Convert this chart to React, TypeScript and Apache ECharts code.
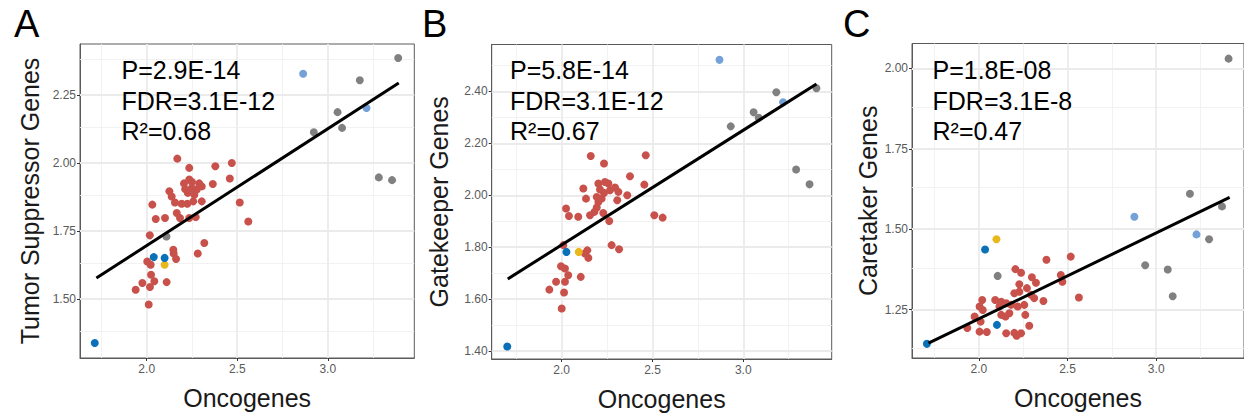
import React, { useEffect, useRef } from "react";
import * as echarts from "echarts";

type P = [number, number];

// ---------- shared axis ticks ----------
const xTicks = [2.0, 2.5, 3.0];
const xMinor = [1.75, 2.25, 2.75, 3.25];
const yTicksA = [1.5, 1.75, 2.0, 2.25];
const yMinorA = [1.375, 1.625, 1.875, 2.125, 2.375];
const yTicksB = [1.4, 1.6, 1.8, 2.0, 2.2, 2.4];
const yMinorB = [1.5, 1.7, 1.9, 2.1, 2.3, 2.5];
const yTicksC = [1.25, 1.5, 1.75, 2.0];
const yMinorC = [1.125, 1.375, 1.625, 1.875];

// ---------- Panel A: Tumor Suppressor Genes ----------
const redA: P[] = [
  [2.169, 2.016], [2.235, 1.982], [2.379, 1.988], [2.47, 2.0], [2.459, 1.943], [2.365, 1.923],
  [2.235, 1.939], [2.212, 1.904], [2.249, 1.908], [2.276, 1.902], [2.304, 1.914], [2.227, 1.89],
  [2.263, 1.883], [2.125, 1.896], [2.138, 1.877], [2.156, 1.855], [2.193, 1.85], [2.224, 1.85],
  [2.304, 1.859], [2.257, 1.859], [2.206, 1.925], [2.29, 1.925], [2.25, 1.93], [2.031, 1.847],
  [2.05, 1.794], [2.101, 1.798], [2.166, 1.816], [2.184, 1.798], [2.235, 1.798], [2.271, 1.801],
  [2.514, 1.855], [2.561, 1.785], [2.017, 1.734], [2.318, 1.706], [2.282, 1.667], [2.147, 1.681],
  [2.149, 1.667], [2.162, 1.647], [2.003, 1.638], [2.022, 1.626], [2.024, 1.589], [2.042, 1.565],
  [1.976, 1.559], [1.939, 1.534], [2.018, 1.544], [2.11, 1.562], [2.011, 1.48],
];
const yellowA: P[] = [[2.099, 1.626]];
const grayA: P[] = [
  [2.109, 1.73], [2.923, 2.113], [3.054, 2.187], [3.079, 2.129], [3.177, 2.304],
  [3.282, 1.947], [3.355, 1.937], [3.389, 2.386],
];
const lightBlueA: P[] = [[2.864, 2.328], [3.214, 2.202]];
const darkBlueA: P[] = [[1.713, 1.338], [2.039, 1.654], [2.099, 1.651]];
const fitA: P[] = [[1.722, 1.577], [3.392, 2.294]];

// ---------- Panel B: Gatekeeper Genes ----------
const redB: P[] = [
  [2.16, 2.151], [2.233, 2.122], [2.463, 2.154], [2.376, 2.073], [2.455, 2.041], [2.202, 2.045],
  [2.238, 2.051], [2.257, 2.045], [2.294, 2.03], [2.312, 2.013], [2.211, 2.022], [2.233, 2.009],
  [2.266, 2.019], [2.119, 2.026], [2.134, 1.987], [2.193, 1.993], [2.202, 1.974], [2.22, 1.987],
  [2.193, 1.953], [2.306, 1.981], [2.361, 2.0], [2.024, 1.949], [2.04, 1.92], [2.091, 1.917],
  [2.156, 1.923], [2.18, 1.936], [2.229, 1.932], [2.262, 1.901], [2.51, 1.923], [2.556, 1.914],
  [2.275, 1.808], [2.316, 1.792], [2.009, 1.808], [2.141, 1.788], [2.147, 1.759], [2.128, 1.776],
  [1.996, 1.727], [2.018, 1.718], [2.036, 1.692], [2.018, 1.667], [2.105, 1.686], [1.969, 1.667],
  [1.932, 1.637], [2.013, 1.626], [2.0, 1.564],
];
const yellowB: P[] = [[2.094, 1.782]];
const grayB: P[] = [
  [2.931, 2.265], [3.057, 2.319], [3.085, 2.298], [3.182, 2.396], [3.291, 2.099],
  [3.365, 2.042], [3.403, 2.412],
];
const lightBlueB: P[] = [[2.869, 2.521], [3.219, 2.358]];
const darkBlueB: P[] = [[1.7, 1.418], [2.026, 1.782]];
const fitB: P[] = [[1.703, 1.678], [3.403, 2.428]];

// ---------- Panel C: Caretaker Genes ----------
const redC: P[] = [
  [2.381, 1.405], [2.518, 1.415], [2.206, 1.376], [2.238, 1.365], [2.299, 1.351], [2.322, 1.334],
  [2.462, 1.358], [2.471, 1.337], [2.228, 1.329], [2.271, 1.317], [2.228, 1.306], [2.2, 1.301],
  [2.294, 1.296], [2.312, 1.286], [2.564, 1.288], [2.364, 1.277], [2.092, 1.28], [2.126, 1.275],
  [2.154, 1.27], [2.182, 1.265], [2.219, 1.26], [2.256, 1.265], [2.116, 1.26], [2.019, 1.28],
  [2.004, 1.26], [2.022, 1.249], [1.976, 1.229], [2.01, 1.213], [2.126, 1.234], [2.15, 1.229],
  [2.172, 1.239], [2.262, 1.234], [2.284, 1.2], [1.935, 1.193], [2.004, 1.182], [2.045, 1.181],
  [2.154, 1.177], [2.2, 1.178], [2.213, 1.169], [2.238, 1.177],
];
const yellowC: P[] = [[2.099, 1.469]];
const grayC: P[] = [
  [2.106, 1.355], [2.938, 1.388], [3.065, 1.375], [3.093, 1.292], [3.19, 1.61],
  [3.298, 1.469], [3.371, 1.571], [3.408, 2.03],
];
const lightBlueC: P[] = [[2.877, 1.539], [3.227, 1.484]];
const darkBlueC: P[] = [[1.707, 1.144], [2.035, 1.437], [2.102, 1.203]];
const fitC: P[] = [[1.716, 1.146], [3.414, 1.599]];

const letters = ["A", "B", "C"];
const yTitles = ["Tumor Suppressor Genes", "Gatekeeper Genes", "Caretaker Genes"];
const statsText = [
  ["P=2.9E-14", "FDR=3.1E-12", "R²=0.68"],
  ["P=5.8E-14", "FDR=3.1E-12", "R²=0.67"],
  ["P=1.8E-08", "FDR=3.1E-8", "R²=0.47"],
];

const FONT = "'Liberation Sans', Arial, sans-serif";
const RED = "#C8524B";
const GRAY = "#808080";
const LBLUE = "#74A2D8";
const DBLUE = "#0A70B8";
const YELLOW = "#E8B81E";

export default function App() {
  const ref = useRef<HTMLDivElement>(null);
  useEffect(() => {
    if (!ref.current) return;
    const chart = echarts.init(ref.current, undefined, { renderer: "svg" });

    const panels = [
      {
        grid: { left: 80, top: 44, width: 334.3, height: 314 },
        x: [1.6315, 3.478], y: [1.283, 2.4375], yTicks: yTicksA, yMinor: yMinorA, yDec: 2, nameGap: 38,
        red: redA, yellow: yellowA, gray: grayA, lb: lightBlueA, db: darkBlueA, fit: fitA,
        letter: { left: 14, top: 5 }, stats: { left: 121.5, top: 55 },
      },
      {
        grid: { left: 491.7, top: 44.5, width: 340, height: 314.5 },
        x: [1.6145, 3.487], y: [1.37, 2.58], yTicks: yTicksB, yMinor: yMinorB, yDec: 2, nameGap: 40,
        red: redB, yellow: yellowB, gray: grayB, lb: lightBlueB, db: darkBlueB, fit: fitB,
        letter: { left: 422, top: 5 }, stats: { left: 510, top: 55 },
      },
      {
        grid: { left: 912, top: 43.5, width: 334, height: 314.5 },
        x: [1.623, 3.495], y: [1.1, 2.077], yTicks: yTicksC, yMinor: yMinorC, yDec: 2, nameGap: 32,
        red: redC, yellow: yellowC, gray: grayC, lb: lightBlueC, db: darkBlueC, fit: fitC,
        letter: { left: 843, top: 5 }, stats: { left: 932.5, top: 55 },
      },
    ];

    const grids: any[] = [];
    const xAxes: any[] = [];
    const yAxes: any[] = [];
    const series: any[] = [];
    const titles: any[] = [];

    panels.forEach((p, i) => {
      grids.push({
        ...p.grid,
        show: true,
        borderColor: "#5a5a5a",
        borderWidth: 1,
        backgroundColor: "transparent",
        containLabel: false,
      });
      xAxes.push({
        type: "value",
        gridIndex: i,
        min: p.x[0],
        max: p.x[1],
        name: "Oncogenes",
        nameLocation: "middle",
        nameGap: 27,
        nameTextStyle: { fontSize: 25, color: "#1a1a1a", fontFamily: FONT },
        axisLine: { show: true, onZero: false, lineStyle: { color: "#5a5a5a", width: 1 } },
        axisTick: { show: true, customValues: xTicks, length: 3, lineStyle: { color: "#333", width: 1 } },
        axisLabel: {
          customValues: xTicks,
          formatter: (v: number) => v.toFixed(1),
          fontSize: 12,
          color: "#5a5a5a",
          margin: 5,
          fontFamily: FONT,
        },
        splitLine: { show: false },
      });
      yAxes.push({
        type: "value",
        gridIndex: i,
        min: p.y[0],
        max: p.y[1],
        name: yTitles[i],
        nameLocation: "middle",
        nameGap: p.nameGap,
        nameRotate: 90,
        nameTextStyle: { fontSize: 25, color: "#1a1a1a", fontFamily: FONT },
        axisLine: { show: true, onZero: false, lineStyle: { color: "#5a5a5a", width: 1 } },
        axisTick: { show: true, customValues: p.yTicks, length: 3, lineStyle: { color: "#333", width: 1 } },
        axisLabel: {
          customValues: p.yTicks,
          formatter: (v: number) => v.toFixed(p.yDec),
          fontSize: 12,
          color: "#5a5a5a",
          margin: 4,
          fontFamily: FONT,
        },
        splitLine: { show: false },
      });

      const major = { color: "#EBEBEB", width: 1.8, type: "solid" };
      const minor = { color: "#F0F0F0", width: 0.9, type: "solid" };
      series.push({
        type: "line",
        xAxisIndex: i,
        yAxisIndex: i,
        data: [],
        silent: true,
        z: 1,
        markLine: {
          silent: true,
          z: 1,
          symbol: ["none", "none"],
          label: { show: false },
          emphasis: { disabled: true },
          animation: false,
          data: [
            ...xMinor.map((v) => ({ xAxis: v, lineStyle: minor })),
            ...p.yMinor.map((v) => ({ yAxis: v, lineStyle: minor })),
            ...xTicks.map((v) => ({ xAxis: v, lineStyle: major })),
            ...p.yTicks.map((v) => ({ yAxis: v, lineStyle: major })),
          ],
        },
      });

      const groups: [P[], string][] = [
        [p.red, RED],
        [p.yellow, YELLOW],
        [p.gray, GRAY],
        [p.lb, LBLUE],
        [p.db, DBLUE],
      ];
      groups.forEach(([data, color]) => {
        series.push({
          type: "scatter",
          xAxisIndex: i,
          yAxisIndex: i,
          data,
          symbol: "circle",
          symbolSize: 8,
          itemStyle: { color, opacity: 1 },
          silent: true,
          z: 2,
        });
      });
      series.push({
        type: "line",
        xAxisIndex: i,
        yAxisIndex: i,
        data: p.fit,
        symbol: "none",
        lineStyle: { color: "#000", width: 3 },
        silent: true,
        z: 3,
      });

      titles.push({
        text: letters[i],
        left: p.letter.left,
        top: p.letter.top,
        padding: 0,
        textStyle: { fontSize: 38, fontWeight: "normal", color: "#000", fontFamily: FONT, lineHeight: 38 },
      });
      titles.push({
        text: statsText[i].join("\n"),
        left: p.stats.left,
        top: p.stats.top,
        padding: 0,
        textStyle: { fontSize: 25, fontWeight: "normal", color: "#000", fontFamily: FONT, lineHeight: 30.5 },
      });
    });

    chart.setOption({
      animation: false,
      backgroundColor: "#fff",
      textStyle: { fontFamily: FONT },
      title: titles,
      grid: grids,
      xAxis: xAxes,
      yAxis: yAxes,
      series,
    });
    return () => chart.dispose();
  }, []);
  return (
    <div
      ref={ref}
      style={{ position: "fixed", left: 0, top: 0, width: 1244, height: 418, background: "#fff" }}
    />
  );
}
